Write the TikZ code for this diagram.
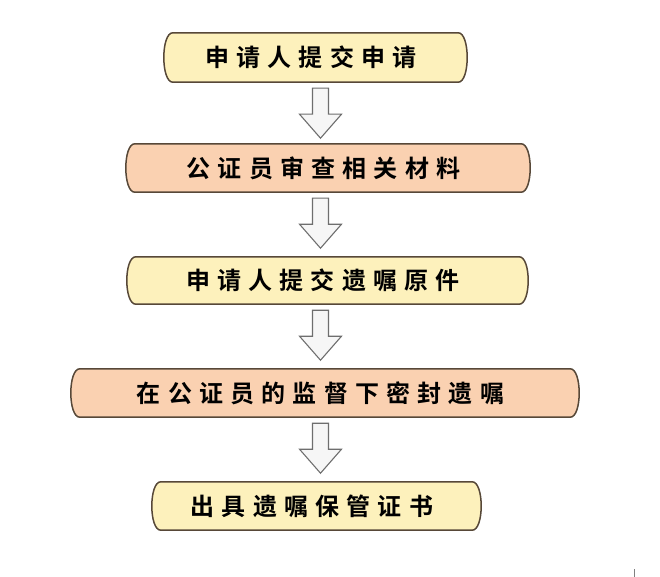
\documentclass[tikz,border=0pt]{standalone}
\usepackage{fontspec}
\newfontfamily\cjk[LetterSpace=30]{Noto Sans CJK SC Bold}
\usetikzlibrary{calc,backgrounds}
\definecolor{yel}{HTML}{FDF1BC}
\definecolor{org}{HTML}{FAD1B1}
\definecolor{edge}{HTML}{574838}
\definecolor{arrfill}{HTML}{F6F6F6}
\definecolor{arredge}{HTML}{6E6E6E}
\newcommand{\lbl}[1]{\kern-9pt #1}
\begin{document}
\begin{tikzpicture}[x=1pt,y=-1pt,
  stepbox/.style={draw=none,inner sep=0pt,font=\cjk\fontsize{24pt}{28pt}\selectfont,text=black},
  boxline/.style={draw=edge,line width=1.5pt},
  barrow/.style={draw=arredge,fill=arrfill,line width=1.1pt,line join=miter}]
\useasboundingbox (0,0) rectangle (660,577);
\coordinate (ax) at (320.5,0);
\node[stepbox,minimum width=303pt,minimum height=49pt] (b1) at (315.5,57.5) {\lbl{申请人提交申请}};
\node[stepbox,minimum width=404pt,minimum height=48pt] (b2) at (328,168) {\lbl{公证员审查相关材料}};
\node[stepbox,minimum width=401pt,minimum height=47pt] (b3) at (327.5,280.5) {\lbl{申请人提交遗嘱原件}};
\node[stepbox,minimum width=508pt,minimum height=48pt] (b4) at (325,393) {\lbl{在公证员的监督下密封遗嘱}};
\node[stepbox,minimum width=329pt,minimum height=48pt] (b5) at (316.5,506) {\lbl{出具遗嘱保管证书}};
\begin{scope}[on background layer]
\fill[white] (0,0) rectangle (660,577);
\foreach \n/\c in {b1/yel,b2/org,b3/yel,b4/org,b5/yel}{
  \draw[boxline,fill=\c] ($(\n.north west)+(9,0)$) -- ($(\n.north east)+(-9,0)$)
    .. controls ($(\n.north east)+(3,0)$) and ($(\n.south east)+(3,0)$) .. ($(\n.south east)+(-9,0)$)
    -- ($(\n.south west)+(9,0)$)
    .. controls ($(\n.south west)+(-3,0)$) and ($(\n.north west)+(-3,0)$) .. cycle;
}
\end{scope}
\foreach \a/\b in {b1/b2,b2/b3,b3/b4,b4/b5}{
  \draw[barrow] ($(\a.south -| ax)+(-8,6)$) -- ++(16,0) -- ++(0,26) -- ++(13,0)
    -- ++(-21,24) -- ++(-21,-24) -- ++(13,0) -- cycle;
}
\draw[gray,line width=1pt] (634,569) -- (634,577);
\end{tikzpicture}
\end{document}
